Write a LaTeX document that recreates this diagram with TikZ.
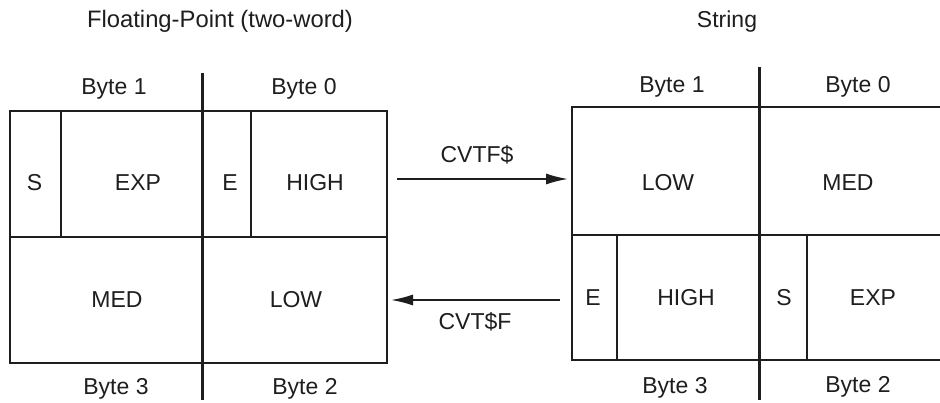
\documentclass[tikz,border=0pt]{standalone}
\usepackage{fontspec}
\setmainfont{Liberation Sans}
\usetikzlibrary{arrows.meta}
\definecolor{ink}{HTML}{1E1E1E}
\begin{document}
\begin{tikzpicture}[x=1pt,y=-1pt,
  box/.style={draw=ink,line width=2.3pt},
  divider/.style={draw=ink,line width=3pt},
  lbl/.style={text=ink,font=\fontsize{23}{27}\selectfont,anchor=base,inner sep=0pt},
  conv/.style={draw=ink,line width=1.7pt,-{Latex[length=22pt,width=11pt]}}]
\useasboundingbox[fill=white] (0,0) rectangle (940,403);
% titles
\node[lbl,font=\fontsize{23.8}{28}\selectfont] (t1) at (220,28) {Floating-Point (two-word)};
\node[lbl] (t2) at (727,28) {String};
% left box
\draw[box] (10,111) rectangle (387,363);
\draw[box] (10,237) -- (387,237);
\draw[box] (61,111) -- (61,237);
\draw[box] (251,111) -- (251,237);
\draw[divider] (202,73) -- (202,400);
\node[lbl] (lb1) at (114,95) {Byte 1};
\node[lbl] (lb0) at (304,95) {Byte 0};
\node[lbl] (lb3) at (116,394) {Byte 3};
\node[lbl] (lb2) at (305,394) {Byte 2};
\node[lbl] (ls) at (34.5,191) {S};
\node[lbl] (lexp) at (138,191) {EXP};
\node[lbl] (le) at (230,191) {E};
\node[lbl] (lhigh) at (315,191) {HIGH};
\node[lbl] (lmed) at (117,308) {MED};
\node[lbl] (llow) at (296,308) {LOW};
% right box
\draw[box] (940,107) -- (572,107) -- (572,360) -- (940,360);
\draw[box] (572,235) -- (940,235);
\draw[box] (617,235) -- (617,360);
\draw[box] (807,235) -- (807,360);
\draw[divider] (759,67) -- (759,400);
\node[lbl] (rb1) at (672,93) {Byte 1};
\node[lbl] (rb0) at (858,93) {Byte 0};
\node[lbl] (rb3) at (675,393) {Byte 3};
\node[lbl] (rb2) at (858,392) {Byte 2};
\node[lbl] (rlow) at (668,191) {LOW};
\node[lbl] (rmed) at (848,191) {MED};
\node[lbl] (re) at (593,306) {E};
\node[lbl] (rhigh) at (686,306) {HIGH};
\node[lbl] (rs) at (784,306) {S};
\node[lbl] (rexp) at (873,306) {EXP};
% arrows
\coordinate (a1s) at (397,179);
\coordinate (a1e) at (568,179);
\coordinate (a2s) at (560,300);
\coordinate (a2e) at (391,300);
\draw[conv] (a1s) -- (a1e);
\draw[conv] (a2s) -- (a2e);
\node[lbl] (c1) at (477,163) {CVTF\$};
\node[lbl] (c2) at (475,330) {CVT\$F};
\end{tikzpicture}
\end{document}
